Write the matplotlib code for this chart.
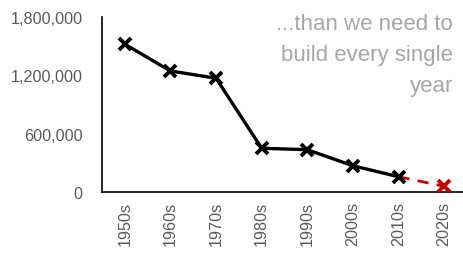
import matplotlib
matplotlib.use("Agg")
import matplotlib.pyplot as plt

categories = ["1950s", "1960s", "1970s", "1980s", "1990s", "2000s", "2010s", "2020s"]
built = [1520000, 1245000, 1170000, 450000, 435000, 270000, 157000]
projected = [157000, 59000]
yticks = [0, 600000, 1200000, 1800000]
ytick_labels = ["0", "600,000", "1,200,000", "1,800,000"]
note = "...than we need to\nbuild every single\nyear"

plt.rcParams['font.family'] = ['Liberation Sans', 'DejaVu Sans']

W, H = 464, 255
fig = plt.figure(figsize=(W / 100, H / 100), dpi=100)
ax = fig.add_axes([102 / W, 62 / H, (467 - 102) / W, 175 / H])

x_all = list(range(len(categories)))
ax.plot(x_all[:len(built)], built, color="black", lw=2.4, marker="x",
        markersize=9, markeredgewidth=2.8, solid_capstyle="round", zorder=3)
ax.plot(x_all[len(built) - 1:], projected, color="#C00000", lw=2.0,
        ls=(0, (4, 3)), zorder=2)
ax.plot(x_all[-1:], projected[-1:], color="#C00000", lw=0, marker="x",
        markersize=9, markeredgewidth=2.8, zorder=3)

ax.set_xlim(-0.5, len(categories) - 0.5)
ax.set_ylim(0, 1800000)
ax.set_xticks(x_all)
ax.set_xticklabels(categories, rotation=90, fontsize=11.6, color="#595959")
ax.set_yticks(yticks)
ax.set_yticklabels(ytick_labels, fontsize=11.6, color="#595959")
ax.tick_params(axis="both", length=0)
ax.tick_params(axis="x", pad=6.5)
ax.tick_params(axis="y", pad=14)
for s in ["top", "right"]:
    ax.spines[s].set_visible(False)
for s in ["left", "bottom"]:
    ax.spines[s].set_color("black")
    ax.spines[s].set_linewidth(1.2)

fig.text(453 / W, 1 - 14 / H, note, ha="right", va="top", fontsize=16,
         color="#A6A6A6", linespacing=1.62)

fig.savefig("out.png", dpi=100)
